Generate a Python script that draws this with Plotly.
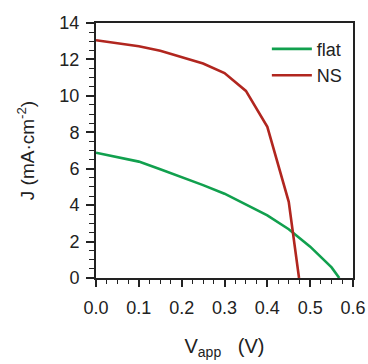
import plotly.graph_objects as go

v_flat = [0.0, 0.05, 0.1, 0.15, 0.2, 0.25, 0.3, 0.35, 0.4, 0.45, 0.5, 0.55, 0.568]
j_flat = [6.88, 6.65, 6.39, 5.97, 5.55, 5.1, 4.63, 4.05, 3.44, 2.68, 1.72, 0.58, 0.0]

v_ns = [0.0, 0.05, 0.1, 0.15, 0.2, 0.25, 0.3, 0.35, 0.4, 0.45, 0.474]
j_ns = [13.05, 12.9, 12.72, 12.48, 12.15, 11.78, 11.25, 10.27, 8.3, 4.18, 0.0]

x_ticks = [0.0, 0.1, 0.2, 0.3, 0.4, 0.5, 0.6]
x_ticklabels = ["0.0", "0.1", "0.2", "0.3", "0.4", "0.5", "0.6"]
y_ticks = [0, 2, 4, 6, 8, 10, 12, 14]

FONT = "Liberation Sans, Arial, sans-serif"

fig = go.Figure()
fig.add_trace(go.Scatter(x=v_flat, y=j_flat, mode="lines", name="flat",
                         line=dict(color="#11a04e", width=2.6)))
fig.add_trace(go.Scatter(x=v_ns, y=j_ns, mode="lines", name="NS",
                         line=dict(color="#b1261f", width=2.6)))

fig.update_layout(
    width=368, height=364,
    margin=dict(l=96, r=15, t=23, b=86, autoexpand=False),
    paper_bgcolor="white", plot_bgcolor="white",
    font=dict(family=FONT, size=18, color="#222"),
    showlegend=True,
    legend=dict(x=0.98, y=0.97, xanchor="right", yanchor="top",
                bgcolor="rgba(0,0,0,0)", font=dict(size=18),
                itemwidth=40, tracegroupgap=0),
    xaxis=dict(range=[0, 0.6], tickvals=x_ticks, ticktext=x_ticklabels,
               automargin=False, ticklabeloverflow="allow",
               showgrid=False, zeroline=False, showline=True, linecolor="#222",
               linewidth=2, mirror=True, ticks="outside", ticklen=7, tickwidth=1.5,
               tickcolor="#222", ticklabelstandoff=5,
               minor=dict(dtick=0.025, ticks="outside", ticklen=4, tickwidth=1.2,
                          tickcolor="#222", showgrid=False),
               title=dict(text="V<sub>app</sub>   (V)", standoff=22,
                          font=dict(size=20))),
    yaxis=dict(range=[0, 14], tickvals=y_ticks,
               automargin=False, ticklabeloverflow="allow",
               showgrid=False, zeroline=False, showline=True, linecolor="#222",
               linewidth=2, mirror=True, ticks="outside", ticklen=8, tickwidth=1.5,
               tickcolor="#222", ticklabelstandoff=3,
               minor=dict(dtick=0.5, ticks="outside", ticklen=5, tickwidth=1.2,
                          tickcolor="#222", showgrid=False),
               title=dict(text="J (mA·cm<sup>-2</sup>)", standoff=20,
                          font=dict(size=19))),
)

fig.write_html(
    "out.html",
    config={"displayModeBar": False},
    post_script="document.body.style.margin='0';document.body.style.overflow='hidden';",
)
